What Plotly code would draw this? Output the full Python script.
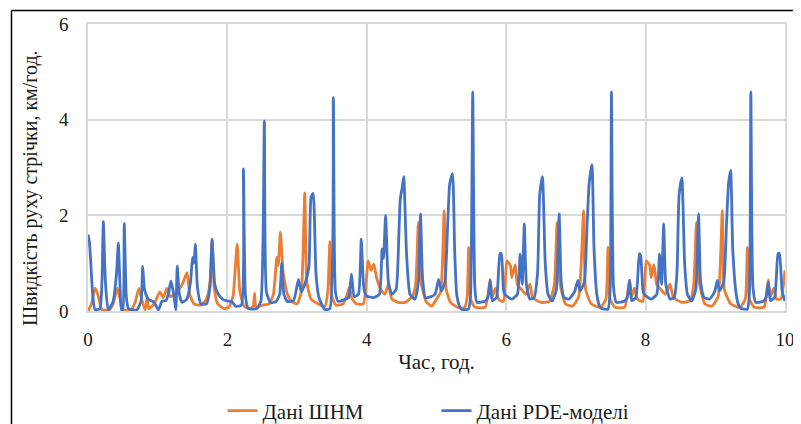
import plotly.graph_objects as go

# ---- data ----
shnm_x = [0.00, 0.05, 0.10, 0.14, 0.20, 0.30, 0.36, 0.42, 0.46, 0.50, 0.62, 0.68, 0.73, 0.77, 0.82, 0.85, 0.87,
          0.95, 1.03, 1.08, 1.13, 1.18, 1.25, 1.35, 1.42, 1.46, 1.52, 1.62, 1.70, 1.75, 1.78, 1.81, 1.86, 1.95,
          2.02, 2.08, 2.14, 2.18, 2.24, 2.32, 2.37, 2.39, 2.41, 2.50, 2.60, 2.66, 2.71, 2.73, 2.76, 2.80, 2.86,
          2.92, 3.00, 3.06, 3.11, 3.14, 3.20, 3.30, 3.40, 3.44, 3.47, 3.50, 3.56, 3.66, 3.72, 3.75, 3.79, 3.85,
          3.95, 4.02, 4.06, 4.10, 4.14, 4.20, 4.26, 4.31, 4.36, 4.45, 4.55, 4.65, 4.70, 4.74, 4.78, 4.85, 4.93,
          5.00, 5.06, 5.11, 5.14, 5.20, 5.30, 5.40, 5.44, 5.46, 5.49, 5.55, 5.70, 5.77, 5.80, 5.85, 5.89, 5.96,
          6.01, 6.06, 6.08, 6.13, 6.16, 6.22, 6.28, 6.34, 6.38, 6.50, 6.62, 6.69, 6.73, 6.77, 6.85, 6.95, 7.04,
          7.11, 7.14, 7.22, 7.35, 7.43, 7.46, 7.49, 7.56, 7.70, 7.77, 7.80, 7.84, 7.88, 7.96, 8.01, 8.06, 8.08,
          8.12, 8.16, 8.22, 8.28, 8.35, 8.40, 8.52, 8.64, 8.69, 8.73, 8.77, 8.85, 8.95, 9.04, 9.10, 9.13, 9.22,
          9.35, 9.43, 9.46, 9.49, 9.56, 9.70, 9.76, 9.79, 9.84, 9.88, 9.94, 10.00]
shnm_y = [0.00, 0.15, 0.48, 0.35, 0.03, 0.02, 0.15, 0.48, 0.25, 0.02, 0.03, 0.20, 0.47, 0.25, 0.02, 0.30, 0.05,
          0.15, 0.40, 0.28, 0.47, 0.30, 0.35, 0.55, 0.80, 0.35, 0.15, 0.12, 0.25, 0.60, 1.50, 0.50, 0.15, 0.05,
          0.08, 0.30, 1.40, 0.40, 0.10, 0.05, 0.10, 0.37, 0.08, 0.12, 0.15, 0.35, 1.12, 0.95, 1.65, 0.80, 0.35,
          0.20, 0.15, 0.40, 2.47, 0.60, 0.25, 0.15, 0.10, 0.40, 1.45, 0.30, 0.12, 0.15, 0.35, 0.50, 0.25, 0.15,
          0.15, 1.05, 0.85, 0.98, 0.70, 0.45, 0.35, 0.56, 0.25, 0.18, 0.18, 0.30, 0.55, 1.85, 0.60, 0.20, 0.10,
          0.25, 0.40, 2.10, 0.45, 0.18, 0.08, 0.07, 0.30, 1.33, 0.25, 0.08, 0.08, 0.66, 0.30, 0.48, 0.25, 0.20,
          1.05, 0.95, 0.70, 0.97, 0.55, 0.45, 0.35, 0.56, 0.28, 0.18, 0.20, 0.55, 1.85, 0.60, 0.15, 0.10, 0.30,
          2.10, 0.45, 0.15, 0.07, 0.25, 1.33, 0.25, 0.08, 0.08, 0.65, 0.30, 0.48, 0.25, 0.20, 1.05, 0.95, 0.70,
          0.97, 0.55, 0.45, 0.35, 0.56, 0.28, 0.18, 0.22, 0.55, 1.85, 0.60, 0.15, 0.10, 0.30, 2.10, 0.45, 0.15,
          0.07, 0.25, 1.33, 0.25, 0.08, 0.08, 0.65, 0.30, 0.48, 0.25, 0.25, 0.85]

pde_x = [0.00, 0.02, 0.04, 0.07, 0.10, 0.17, 0.20, 0.22, 0.25, 0.29, 0.36, 0.41, 0.435, 0.46, 0.48, 0.50, 0.52,
         0.55, 0.58, 0.70, 0.76, 0.785, 0.81, 0.86, 0.90, 0.95, 1.01, 1.06, 1.12, 1.16, 1.19, 1.23, 1.26, 1.28,
         1.31, 1.35, 1.42, 1.47, 1.50, 1.52, 1.54, 1.57, 1.62, 1.70, 1.75, 1.78, 1.82, 1.87, 1.93, 2.00, 2.06,
         2.12, 2.20, 2.23, 2.26, 2.30, 2.42, 2.48, 2.53, 2.56, 2.62, 2.70, 2.75, 2.78, 2.81, 2.86, 2.95, 3.02,
         3.06, 3.12, 3.17, 3.20, 3.23, 3.27, 3.31, 3.36, 3.40, 3.47, 3.52, 3.55, 3.59, 3.70, 3.74, 3.78, 3.82,
         3.88, 3.92, 3.96, 4.00, 4.10, 4.18, 4.22, 4.24, 4.27, 4.31, 4.36, 4.42, 4.46, 4.48, 4.51, 4.53, 4.57,
         4.62, 4.69, 4.74, 4.77, 4.80, 4.84, 4.92, 4.98, 5.03, 5.07, 5.12, 5.16, 5.19, 5.23, 5.26, 5.29, 5.33,
         5.36, 5.46, 5.49, 5.52, 5.55, 5.58, 5.70, 5.74, 5.77, 5.80, 5.86, 5.91, 5.93, 5.96, 5.98, 6.08, 6.16,
         6.20, 6.23, 6.26, 6.29, 6.34, 6.40, 6.45, 6.48, 6.52, 6.56, 6.60, 6.66, 6.72, 6.76, 6.79, 6.83, 6.90,
         6.98, 7.03, 7.06, 7.12, 7.16, 7.19, 7.23, 7.26, 7.30, 7.34, 7.37, 7.46, 7.49, 7.51, 7.54, 7.58, 7.70,
         7.74, 7.77, 7.80, 7.86, 7.91, 7.93, 7.96, 7.98, 8.08, 8.16, 8.20, 8.23, 8.26, 8.29, 8.35, 8.41, 8.45,
         8.48, 8.52, 8.56, 8.60, 8.66, 8.72, 8.76, 8.79, 8.84, 8.92, 8.99, 9.03, 9.06, 9.12, 9.16, 9.19, 9.22,
         9.25, 9.30, 9.34, 9.37, 9.46, 9.49, 9.51, 9.54, 9.58, 9.70, 9.73, 9.76, 9.79, 9.85, 9.90, 9.92, 9.96,
         10.00]
pde_y = [1.60, 1.45, 1.00, 0.30, 0.03, 0.05, 0.60, 1.87, 0.60, 0.02, 0.20, 0.80, 1.42, 0.50, 0.02, 0.03, 1.83,
         0.30, 0.05, 0.02, 0.20, 0.93, 0.45, 0.25, 0.22, 0.18, 0.02, 0.20, 0.22, 0.40, 0.63, 0.35, 0.02, 0.94,
         0.35, 0.18, 0.25, 0.60, 1.12, 1.00, 1.40, 0.50, 0.15, 0.15, 0.50, 1.50, 0.55, 0.35, 0.25, 0.21, 0.20,
         0.10, 0.12, 2.97, 0.30, 0.05, 0.05, 0.20, 3.97, 0.40, 0.17, 0.20, 0.35, 1.00, 0.35, 0.20, 0.22, 0.66,
         0.40, 0.60, 0.94, 2.38, 2.46, 0.80, 0.30, 0.12, 0.03, 0.05, 4.46, 0.40, 0.20, 0.25, 0.28, 0.77, 0.30,
         0.35, 1.50, 0.45, 0.31, 0.28, 0.35, 1.30, 1.10, 2.00, 0.60, 0.35, 0.45, 1.60, 2.34, 2.60, 2.81, 1.20,
         0.35, 0.25, 0.60, 2.03, 0.70, 0.28, 0.30, 0.35, 0.66, 0.42, 0.60, 1.80, 2.66, 2.87, 1.30, 0.35, 0.10,
         0.03, 0.04, 0.40, 4.58, 0.50, 0.18, 0.21, 0.30, 0.64, 0.22, 0.28, 1.20, 1.20, 0.45, 0.35, 0.25, 0.35,
         1.19, 0.56, 1.82, 0.56, 0.25, 0.28, 0.80, 2.41, 2.81, 1.00, 0.35, 0.21, 0.45, 2.03, 0.60, 0.28, 0.25,
         0.40, 0.64, 0.42, 0.60, 1.80, 2.66, 3.06, 1.30, 0.35, 0.10, 0.05, 0.04, 0.40, 4.58, 0.50, 0.18, 0.21,
         0.30, 0.64, 0.22, 0.28, 1.20, 1.15, 0.45, 0.35, 0.25, 0.35, 1.19, 0.56, 1.82, 0.56, 0.25, 0.28, 0.80,
         2.41, 2.78, 1.00, 0.35, 0.21, 0.45, 2.03, 0.60, 0.28, 0.25, 0.40, 0.64, 0.42, 0.60, 1.80, 2.66, 2.94,
         1.30, 0.35, 0.10, 0.05, 0.04, 0.40, 4.58, 0.50, 0.18, 0.21, 0.30, 0.60, 0.22, 0.28, 1.20, 1.20, 0.40,
         0.21]

x_ticks = [0, 2, 4, 6, 8, 10]
y_ticks = [0, 2, 4, 6]
series_names = ["Дані ШНМ", "Дані PDE-моделі"]
x_title = "Час, год."
y_title = "Швидкість руху стрічки, км/год."

FONT = "Liberation Serif, Times New Roman, serif"
GRID = "#d9d9d9"
TXT = "#1a1a1a"

fig = go.Figure()
fig.add_trace(go.Scatter(x=shnm_x, y=shnm_y, mode="lines", name=series_names[0],
                         line=dict(color="#ED7D31", width=2.8, shape="spline", smoothing=0.5)))
fig.add_trace(go.Scatter(x=pde_x, y=pde_y, mode="lines", name=series_names[1],
                         line=dict(color="#4472C4", width=2.8, shape="spline", smoothing=0.5)))

# the page body adds an 8 px offset, so the figure is 8 px smaller than the window
fig.update_layout(
    width=793, height=416,
    margin=dict(l=80, r=16, t=16, b=113, autoexpand=False),
    paper_bgcolor="white", plot_bgcolor="white",
    font=dict(family=FONT, size=19, color=TXT),
    showlegend=True,
    legend=dict(orientation="h", x=0.5, xanchor="center", y=-0.348, yanchor="middle",
                font=dict(family=FONT, size=21, color=TXT), entrywidth=169,
                itemwidth=30, bgcolor="rgba(0,0,0,0)"),
    xaxis=dict(range=[0, 10], tickvals=x_ticks, ticktext=[str(v) for v in x_ticks],
               showgrid=True, gridcolor=GRID, gridwidth=1.5,
               showline=True, linecolor=GRID, linewidth=1.5, mirror=True,
               zeroline=False, ticks="", ticklabelstandoff=10, automargin=False,
               tickfont=dict(family=FONT, size=19, color=TXT),
               title=dict(text=x_title, standoff=6, font=dict(family=FONT, size=21, color=TXT))),
    yaxis=dict(range=[0, 6], tickvals=y_ticks, ticktext=[str(v) for v in y_ticks],
               showgrid=True, gridcolor=GRID, gridwidth=1.5,
               showline=True, linecolor=GRID, linewidth=1.5, mirror=True,
               zeroline=False, ticks="", ticklabelstandoff=14, automargin=False,
               tickfont=dict(family=FONT, size=19, color=TXT)),
)

# rotated y-axis title placed like in the reference
fig.add_annotation(text=y_title, xref="paper", yref="paper",
                   x=(30 - 88) / 697, y=(311 - 188) / 287, xanchor="center", yanchor="middle",
                   textangle=-90, showarrow=False, font=dict(family=FONT, size=20, color=TXT))

# outer chart frame (extends past the right and bottom edges of the picture)
fig.add_shape(type="line", xref="paper", yref="paper",
              x0=(11.5 - 88) / 697, x1=(11.5 - 88) / 697, y0=-0.5, y1=(311 - 10.5) / 287,
              line=dict(color="black", width=1.5), layer="above")
fig.add_shape(type="line", xref="paper", yref="paper",
              x0=(11.5 - 88) / 697, x1=1.1, y0=(311 - 10.5) / 287, y1=(311 - 10.5) / 287,
              line=dict(color="black", width=1.5), layer="above")

fig.write_html("out.html")
